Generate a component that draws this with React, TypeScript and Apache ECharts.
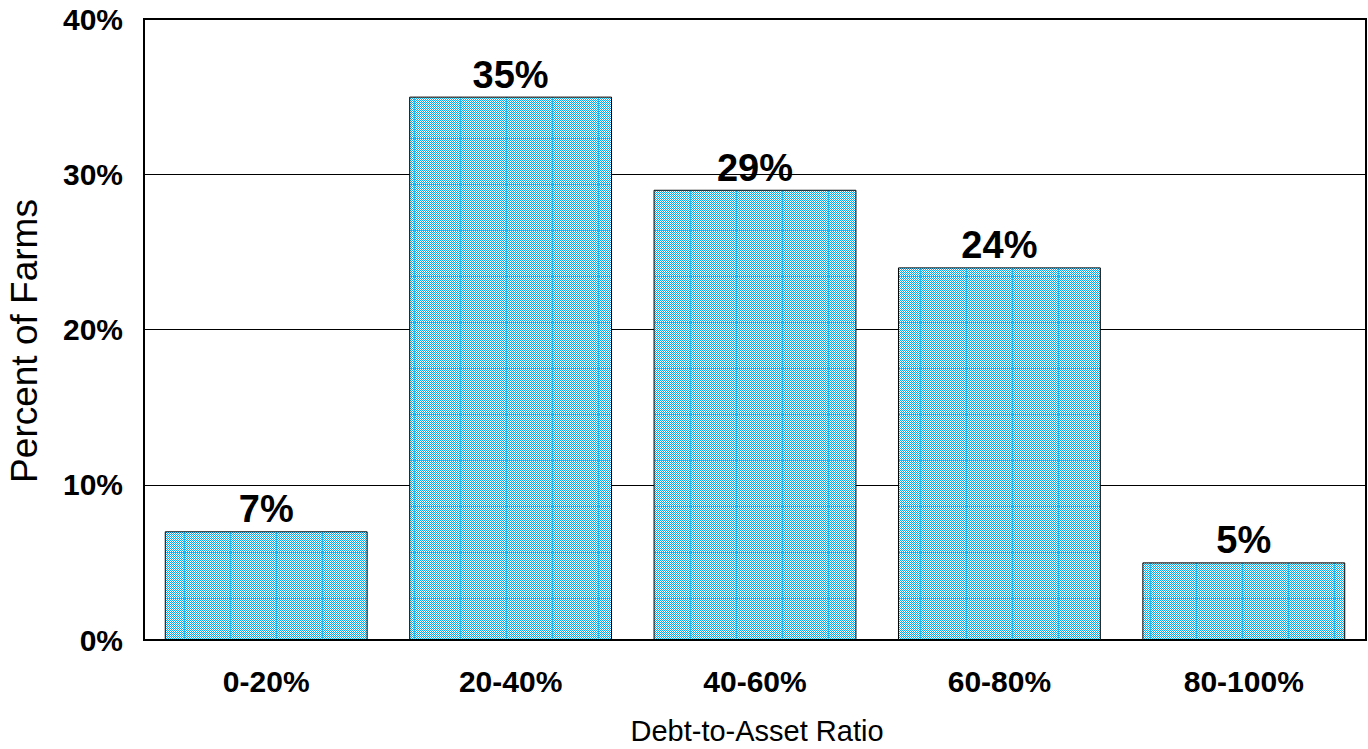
import React, { useEffect, useRef } from "react";
import * as echarts from "echarts";

const categories = ["0-20%", "20-40%", "40-60%", "60-80%", "80-100%"];
const percentFarms = [7, 35, 29, 24, 5];
const yTicks = [0, 10, 20, 30, 40];

function makePattern(): string {
  const n = 46;
  const c = document.createElement("canvas");
  c.width = n;
  c.height = n;
  const ctx = c.getContext("2d")!;
  ctx.fillStyle = "#ffffff";
  ctx.fillRect(0, 0, n, n);
  ctx.fillStyle = "#00adef";
  for (let y = 0; y < n; y++) {
    for (let x = 0; x < n; x++) {
      if ((x + y) % 2 === 0) ctx.fillRect(x, y, 1, 1);
    }
  }
  ctx.fillStyle = "#22b8f2";
  ctx.fillRect(0, 0, 1, n);
  ctx.fillRect(0, 0, n, 1);
  return c.toDataURL();
}

export default function App() {
  const ref = useRef<HTMLDivElement>(null);
  useEffect(() => {
    if (!ref.current) return;
    const chart = echarts.init(ref.current, undefined, { renderer: "svg" });
    const font = "'Liberation Sans', Arial, sans-serif";
    chart.setOption({
      animation: false,
      backgroundColor: "#ffffff",
      grid: { left: 144, top: 19, right: 2, bottom: 109, show: true, borderColor: "#000", borderWidth: 2, backgroundColor: "transparent" },
      xAxis: {
        type: "category",
        data: categories,
        axisLine: { show: true, lineStyle: { color: "#000", width: 2 } },
        axisTick: { show: false },
        axisLabel: { fontFamily: font, fontWeight: "bold", fontSize: 30, color: "#000", margin: 26 },
      },
      yAxis: {
        type: "value",
        min: yTicks[0],
        max: yTicks[yTicks.length - 1],
        interval: 10,
        axisLine: { show: true, lineStyle: { color: "#000", width: 2 } },
        axisTick: { show: false },
        splitLine: { show: true, lineStyle: { color: "#000", width: 1 } },
        axisLabel: {
          fontFamily: font,
          fontWeight: "bold",
          fontSize: 30,
          color: "#000",
          margin: 21,
          formatter: (v: number) => `${v}%`,
        },
      },
      graphic: [
        {
          type: "text",
          x: 24,
          y: 341,
          rotation: Math.PI / 2,
          style: { text: "Percent of Farms", font: `37px ${font}`, fill: "#000", align: "center", verticalAlign: "middle" },
        },
        {
          type: "text",
          x: 757,
          y: 731,
          style: { text: "Debt-to-Asset Ratio", font: `29px ${font}`, fill: "#000", align: "center", verticalAlign: "middle" },
        },
      ],
      series: [
        {
          type: "bar",
          data: percentFarms,
          barWidth: "83%",
          itemStyle: {
            color: { image: makePattern(), repeat: "repeat", x: -3, y: 0 },
            borderColor: "#000",
            borderWidth: 1,
          },
          label: {
            show: true,
            position: "top",
            distance: 3,
            formatter: (p: any) => `${p.value}%`,
            fontFamily: font,
            fontWeight: "bold",
            fontSize: 38,
            color: "#000",
          },
        },
      ],
    });
    return () => chart.dispose();
  }, []);
  return (
    <div
      ref={ref}
      style={{ position: "fixed", left: 0, top: 0, width: 1368, height: 749, background: "#fff" }}
    />
  );
}
